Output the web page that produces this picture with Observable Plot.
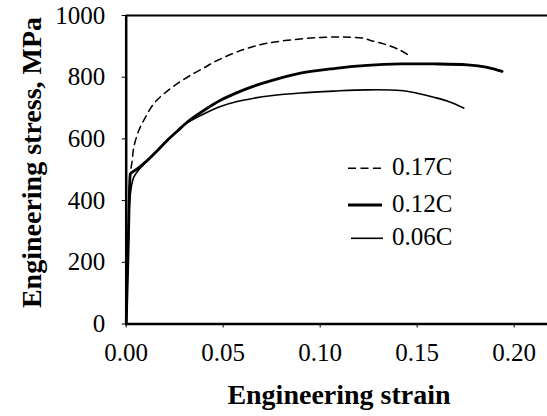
<!DOCTYPE html>
<html>
<head>
<meta charset="utf-8">
<script src="https://cdn.jsdelivr.net/npm/d3@7"></script>
<script src="https://cdn.jsdelivr.net/npm/@observablehq/plot@0.6"></script>
<style>
  html, body { margin: 0; padding: 0; background: #fff; }
  #chart { width: 547px; height: 416px; overflow: hidden; }
  #chart svg, #chart svg text { font-family: "Liberation Serif", "DejaVu Serif", serif !important; }
</style>
</head>
<body>
<div id="chart"></div>
<script>
// ---- data ----
const strain017 = [0, 0.0010, 0.0020, 0.0031, 0.0039, 0.0065, 0.0099, 0.0142, 0.0194, 0.0263, 0.0331, 0.0400, 0.0469, 0.0606, 0.0727, 0.0864, 0.1002, 0.1122, 0.1225, 0.1260, 0.1328, 0.1414, 0.1466];
const stress017 = [0, 240, 480, 530, 573, 627, 670, 714, 746, 779, 806, 830, 854, 890, 910, 922, 929, 930, 926, 919, 908, 887, 867];

const strain012 = [0, 0.0010, 0.0020, 0.0022, 0.0057, 0.0108, 0.0160, 0.0211, 0.0263, 0.0314, 0.0400, 0.0486, 0.0572, 0.0658, 0.0744, 0.0898, 0.1070, 0.1242, 0.1414, 0.1586, 0.1758, 0.1861, 0.1938];
const stress012 = [0, 240, 480, 487, 503, 530, 562, 595, 625, 654, 692, 725, 750, 771, 788, 813, 828, 838, 843, 843, 840, 832, 819];

const strain006 = [0, 0.0010, 0.0016, 0.0028, 0.0039, 0.0065, 0.0108, 0.0160, 0.0211, 0.0263, 0.0314, 0.0400, 0.0486, 0.0572, 0.0658, 0.0744, 0.0898, 0.1070, 0.1242, 0.1414, 0.1500, 0.1586, 0.1672, 0.1740];
const stress006 = [0, 240, 380, 450, 476, 500, 528, 560, 594, 624, 652, 681, 705, 721, 732, 740, 749, 755, 759, 757, 748, 735, 719, 700];

const seriesNames = ["0.17C", "0.12C", "0.06C"];
const xTicks = [0, 0.05, 0.10, 0.15, 0.20];
const yTicks = [0, 200, 400, 600, 800, 1000];
const xTitle = "Engineering strain";
const yTitle = "Engineering stress, MPa";

// ---- build tables ----
const toRows = (xs, ys) => xs.map((x, i) => ({x, y: ys[i]}));
const rows017 = toRows(strain017, stress017);
const rows012 = toRows(strain012, stress012);
const rows006 = toRows(strain006, stress006);

const styles = [
  {name: seriesNames[0], strokeWidth: 1.5, dash: "7,5"},
  {name: seriesNames[1], strokeWidth: 2.8, dash: null},
  {name: seriesNames[2], strokeWidth: 1.6, dash: null}
];

const FONT = "Liberation Serif";
const W = 547, H = 416;
const mLeft = 125.7, mTop = 15, mBottom = 92.5, mRight = 0;

const plot = Plot.plot({
  width: W,
  height: H,
  marginLeft: mLeft,
  marginTop: mTop,
  marginBottom: mBottom,
  marginRight: mRight,
  style: {fontFamily: FONT, fontSize: "25px", color: "#000", background: "#fff", overflow: "visible"},
  x: {domain: [0, 0.2172], label: null},
  y: {domain: [0, 1000], label: null},
  marks: [
    Plot.line(rows006, {x: "x", y: "y", stroke: "#000", strokeWidth: styles[2].strokeWidth, curve: "catmull-rom"}),
    Plot.line(rows012, {x: "x", y: "y", stroke: "#000", strokeWidth: styles[1].strokeWidth, curve: "catmull-rom"}),
    Plot.line(rows017, {x: "x", y: "y", stroke: "#000", strokeWidth: styles[0].strokeWidth, strokeDasharray: styles[0].dash, curve: "catmull-rom"}),
    Plot.axisX({ticks: xTicks, tickFormat: d3.format(".2f"), tickSize: 4, tickPadding: 15, label: null, fontSize: 25, fontFamily: FONT}),
    Plot.axisY({ticks: yTicks, tickFormat: d3.format("d"), tickSize: 4, tickPadding: 17, label: null, fontSize: 25, fontFamily: FONT}),
    Plot.ruleY([0], {stroke: "#000", strokeWidth: 2.5}),
    Plot.ruleY([1000], {stroke: "#000", strokeWidth: 2}),
    Plot.ruleX([0], {stroke: "#000", strokeWidth: 2.5})
  ]
});

document.getElementById("chart").appendChild(plot);

// ---- titles and legend ----
const svg = d3.select(plot);
svg.append("text")
  .attr("x", 339).attr("y", 404)
  .attr("text-anchor", "middle")
  .attr("font-family", FONT)
  .attr("font-weight", "bold")
  .attr("font-size", 28)
  .attr("fill", "#000")
  .text(xTitle);

svg.append("text")
  .attr("transform", "translate(41,162.5) rotate(-90)")
  .attr("text-anchor", "middle")
  .attr("font-family", FONT)
  .attr("font-weight", "bold")
  .attr("font-size", 28)
  .attr("fill", "#000")
  .text(yTitle);

const legendLineX = [[348, 382], [348, 382], [351, 383]];
const legendLineY = [168.3, 205, 238.3];
const legend = svg.append("g");
styles.forEach((s, i) => {
  const ln = legend.append("line")
    .attr("x1", legendLineX[i][0]).attr("x2", legendLineX[i][1])
    .attr("y1", legendLineY[i]).attr("y2", legendLineY[i])
    .attr("stroke", "#000").attr("stroke-width", s.strokeWidth);
  if (s.dash) ln.attr("stroke-dasharray", "8,4.5");
  legend.append("text")
    .attr("x", 392).attr("y", legendLineY[i] + 7)
    .attr("text-anchor", "start")
    .attr("font-family", FONT)
    .attr("font-size", 25)
    .attr("fill", "#000")
    .text(s.name);
});
</script>
</body>
</html>
